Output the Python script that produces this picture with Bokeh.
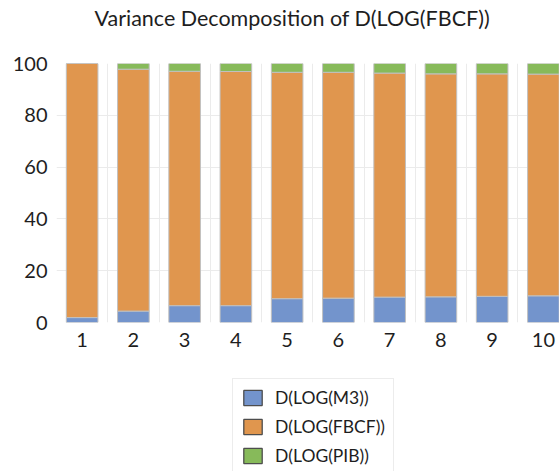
from bokeh.plotting import figure
from bokeh.models import ColumnDataSource, Range1d, FixedTicker, Label
from bokeh.layouts import column
from bokeh.embed import file_html
from bokeh.resources import INLINE

periods = [1, 2, 3, 4, 5, 6, 7, 8, 9, 10]
period_labels = ["1", "2", "3", "4", "5", "6", "7", "8", "9", "10"]
m3 = [1.9, 4.4, 6.5, 6.5, 9.2, 9.4, 9.8, 9.9, 10.1, 10.3]
fbcf = [98.1, 93.4, 90.5, 90.4, 87.4, 87.2, 86.5, 86.1, 85.9, 85.6]
pib = [0.0, 2.2, 3.0, 3.1, 3.4, 3.4, 3.7, 4.0, 4.0, 4.1]
series_names = ["D(LOG(M3))", "D(LOG(FBCF))", "D(LOG(PIB))"]
y_ticks = [0, 20, 40, 60, 80, 100]
title_text = "Variance Decomposition of D(LOG(FBCF))"

colors = ["#7394CC", "#E0964E", "#87BA5A"]
FONT = "Lato"
TXT = "#1e1e1e"
W = 559
LEFT = 56


def strip(height):
    f = figure(width=W, height=height, output_backend="svg", toolbar_location=None,
               x_range=Range1d(0, 1), y_range=Range1d(0, 1),
               x_axis_type=None, y_axis_type=None,
               min_border_left=LEFT, min_border_right=0, min_border_top=0,
               min_border_bottom=0)
    f.outline_line_color = None
    f.background_fill_color = "white"
    f.border_fill_color = "white"
    return f


source = ColumnDataSource(dict(period=periods, M3=m3, FBCF=fbcf, PIB=pib))

# ---- title strip
p0 = strip(40)
p0.add_layout(Label(x=38, y=22.5, x_units="screen", y_units="screen",
                    text=title_text, text_font=FONT, text_font_size="21.5px",
                    text_color=TXT, text_baseline="middle", text_align="left"))

# ---- main chart
p = figure(width=W, height=320, output_backend="svg", toolbar_location=None,
           x_range=Range1d(0.5, 10.314), y_range=Range1d(0, 100),
           min_border_left=LEFT, min_border_right=0, min_border_top=23,
           min_border_bottom=38)
p.outline_line_color = None
p.background_fill_color = "white"
p.border_fill_color = "white"

p.vbar_stack(["M3", "FBCF", "PIB"], x="period", width=0.617, source=source,
             fill_color=colors, line_color="#c0c0c0", line_width=1)

p.xaxis.ticker = FixedTicker(ticks=periods)
p.xaxis.major_label_overrides = {pp: lab for pp, lab in zip(periods, period_labels)}
p.yaxis.ticker = FixedTicker(ticks=y_ticks)
for ax in (p.xaxis[0], p.yaxis[0]):
    ax.axis_line_color = None
    ax.major_tick_line_color = None
    ax.minor_tick_line_color = None
    ax.major_tick_out = 0
    ax.major_tick_in = 0
    ax.major_label_text_font = FONT
    ax.major_label_text_font_size = "20px"
    ax.major_label_text_color = TXT
p.yaxis.major_label_standoff = 9
p.xaxis.major_label_standoff = 10

p.xgrid.ticker = FixedTicker(ticks=[1.5, 2.5, 3.5, 4.5, 5.5, 6.5, 7.5, 8.5, 9.5, 10.5])
p.xgrid.grid_line_color = "#ebebeb"
p.ygrid.grid_line_color = "#ebebeb"

# ---- legend strip (same series as hidden renderers; only the legend shows)
p2 = strip(111)
legend_renderers = p2.vbar_stack(["M3", "FBCF", "PIB"], x="period", width=0.617,
                                 source=source, fill_color=colors,
                                 line_color="#4d4d4d", line_width=1.3,
                                 legend_label=series_names)
for r in legend_renderers:
    r.visible = False

lg = p2.legend[0]
lg.location = (176, -4)
lg.padding = 8
lg.spacing = 8
lg.glyph_width = 23
lg.glyph_height = 19
lg.label_height = 21
lg.label_standoff = 11
lg.label_text_font = FONT
lg.label_text_font_size = "17.5px"
lg.label_text_color = TXT
lg.border_line_color = "#d9d9d9"
lg.border_line_width = 1
lg.background_fill_alpha = 1
lg.inactive_fill_alpha = 0
lg.margin = 0

layout = column(p0, p, p2, spacing=0)
open("out.html", "w").write(file_html(layout, INLINE))
